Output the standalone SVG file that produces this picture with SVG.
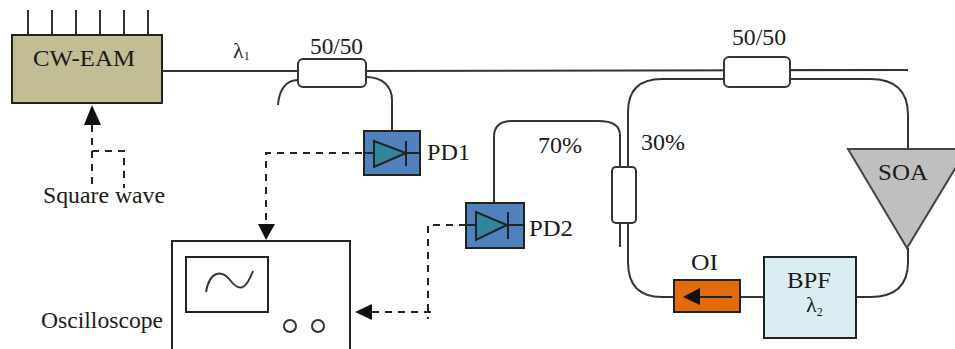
<svg xmlns="http://www.w3.org/2000/svg" width="955" height="349" viewBox="0 0 955 349">
<style>
text{font-family:"Liberation Serif","Times New Roman",serif;fill:#1a1a1a;font-size:24px}
.sub{font-size:12px}
.l{fill:none;stroke:#333;stroke-width:2}
.b{stroke:#222;stroke-width:2}
.d{fill:none;stroke:#222;stroke-width:2;stroke-dasharray:7 6}
.c{fill:#fff;stroke:#333;stroke-width:2}
.a{fill:#111;stroke:none}
</style>
<rect width="955" height="349" fill="#fff"/>
<g id="connectors">
<path class="l" d="M162 71H298M366 71L908 70M298 80C286 80 279 90 278 105M366 77C382 77 392 86 392 100V131"/>
<path class="l" d="M494 203V137Q494 121 512 121H598Q620 121 620 135V247"/>
<path class="l" d="M628 167V112Q628 79 662 79H724M790 70H907M790 79H870Q908 79 908 115V150M908 248V262Q908 297 870 297H856M764 297H740M674 297H662Q628 297 628 262V223"/>
<path class="d" d="M362 153H266V224"/>
<path class="a" d="M258 224H275L266 240Z"/>
<path class="d" d="M92 125V186"/>
<path class="d" d="M92 151H124V188"/>
<path class="a" d="M92 105L101 125H84Z"/>
<path class="d" d="M466 225H428V319"/>
<path class="d" d="M372 312H433"/>
<path class="a" d="M355 312L372 304V320Z"/>
</g>
<g id="cw-eam">
<path class="l" d="M28 10V35M52 10V35M76 10V35M100 10V35M124 10V35M148 10V35"/>
<rect x="12" y="35" width="150" height="68" fill="#c3bd96" class="b"/>
<text x="33" y="66" textLength="102" lengthAdjust="spacingAndGlyphs">CW-EAM</text>
</g>
<g id="lambda1"><text x="233" y="58" style="font-size:22px">λ<tspan class="sub" dy="2">1</tspan></text></g>
<g id="coupler1"><rect class="c" x="298" y="59" width="68" height="28" rx="5"/><text x="310" y="54" textLength="53" lengthAdjust="spacingAndGlyphs">50/50</text></g>
<g id="coupler3"><rect class="c" x="724" y="57" width="66" height="30" rx="5"/><text x="732" y="45" textLength="54" lengthAdjust="spacingAndGlyphs">50/50</text></g>
<g id="coupler2"><rect class="c" x="612" y="167" width="24" height="56" rx="4"/></g>
<g id="pd1">
<rect x="364" y="131" width="56" height="44" fill="#4f81bd" class="b"/>
<path class="b" d="M364 153H420M406 141V166" fill="none"/>
<path d="M374 141L374 167L406 153Z" fill="#31859c" class="b"/>
<text x="427" y="160" textLength="43" lengthAdjust="spacingAndGlyphs">PD1</text>
</g>
<g id="pd2">
<rect x="466" y="203" width="58" height="45" fill="#4f81bd" class="b"/>
<path class="b" d="M466 225H524M508 212V239" fill="none"/>
<path d="M476 212L476 240L507 225Z" fill="#31859c" class="b"/>
<text x="529" y="236" textLength="44" lengthAdjust="spacingAndGlyphs">PD2</text>
</g>
<g id="label70"><text x="538" y="153" textLength="44" lengthAdjust="spacingAndGlyphs">70%</text></g>
<g id="label30"><text x="641" y="150" textLength="44" lengthAdjust="spacingAndGlyphs">30%</text></g>
<g id="soa">
<path d="M848 149H967L907 248Z" fill="#bfbfbf" stroke="#444" stroke-width="2"/>
<text x="878" y="180" textLength="50" lengthAdjust="spacingAndGlyphs">SOA</text>
</g>
<g id="bpf">
<rect x="764" y="257" width="92" height="81" fill="#daedf3" class="b"/>
<text x="787" y="288" textLength="44" lengthAdjust="spacingAndGlyphs">BPF</text>
<text x="806" y="312" style="font-size:22px">λ<tspan class="sub" dy="4">2</tspan></text>
</g>
<g id="oi">
<rect x="674" y="280" width="66" height="32" fill="#e36c0a" class="b"/>
<path class="b" d="M698 297H732" fill="none"/>
<path class="a" d="M683 297L700 288V305Z"/>
<text x="691" y="270" textLength="27" lengthAdjust="spacingAndGlyphs">OI</text>
</g>
<g id="oscilloscope">
<rect x="172" y="241" width="178" height="112" fill="#fff" class="b"/>
<rect x="186" y="257" width="82" height="55" fill="#fff" class="b"/>
<path class="l" d="M206 292C210 270 222 270 230 280C240 293 246 289 253 271"/>
<circle class="c" cx="290" cy="326" r="6"/>
<circle class="c" cx="318" cy="326" r="6"/>
<text x="41" y="328" textLength="122" lengthAdjust="spacingAndGlyphs">Oscilloscope</text>
</g>
<g id="square-wave"><text x="43" y="203" textLength="122" lengthAdjust="spacingAndGlyphs">Square wave</text></g>
</svg>
